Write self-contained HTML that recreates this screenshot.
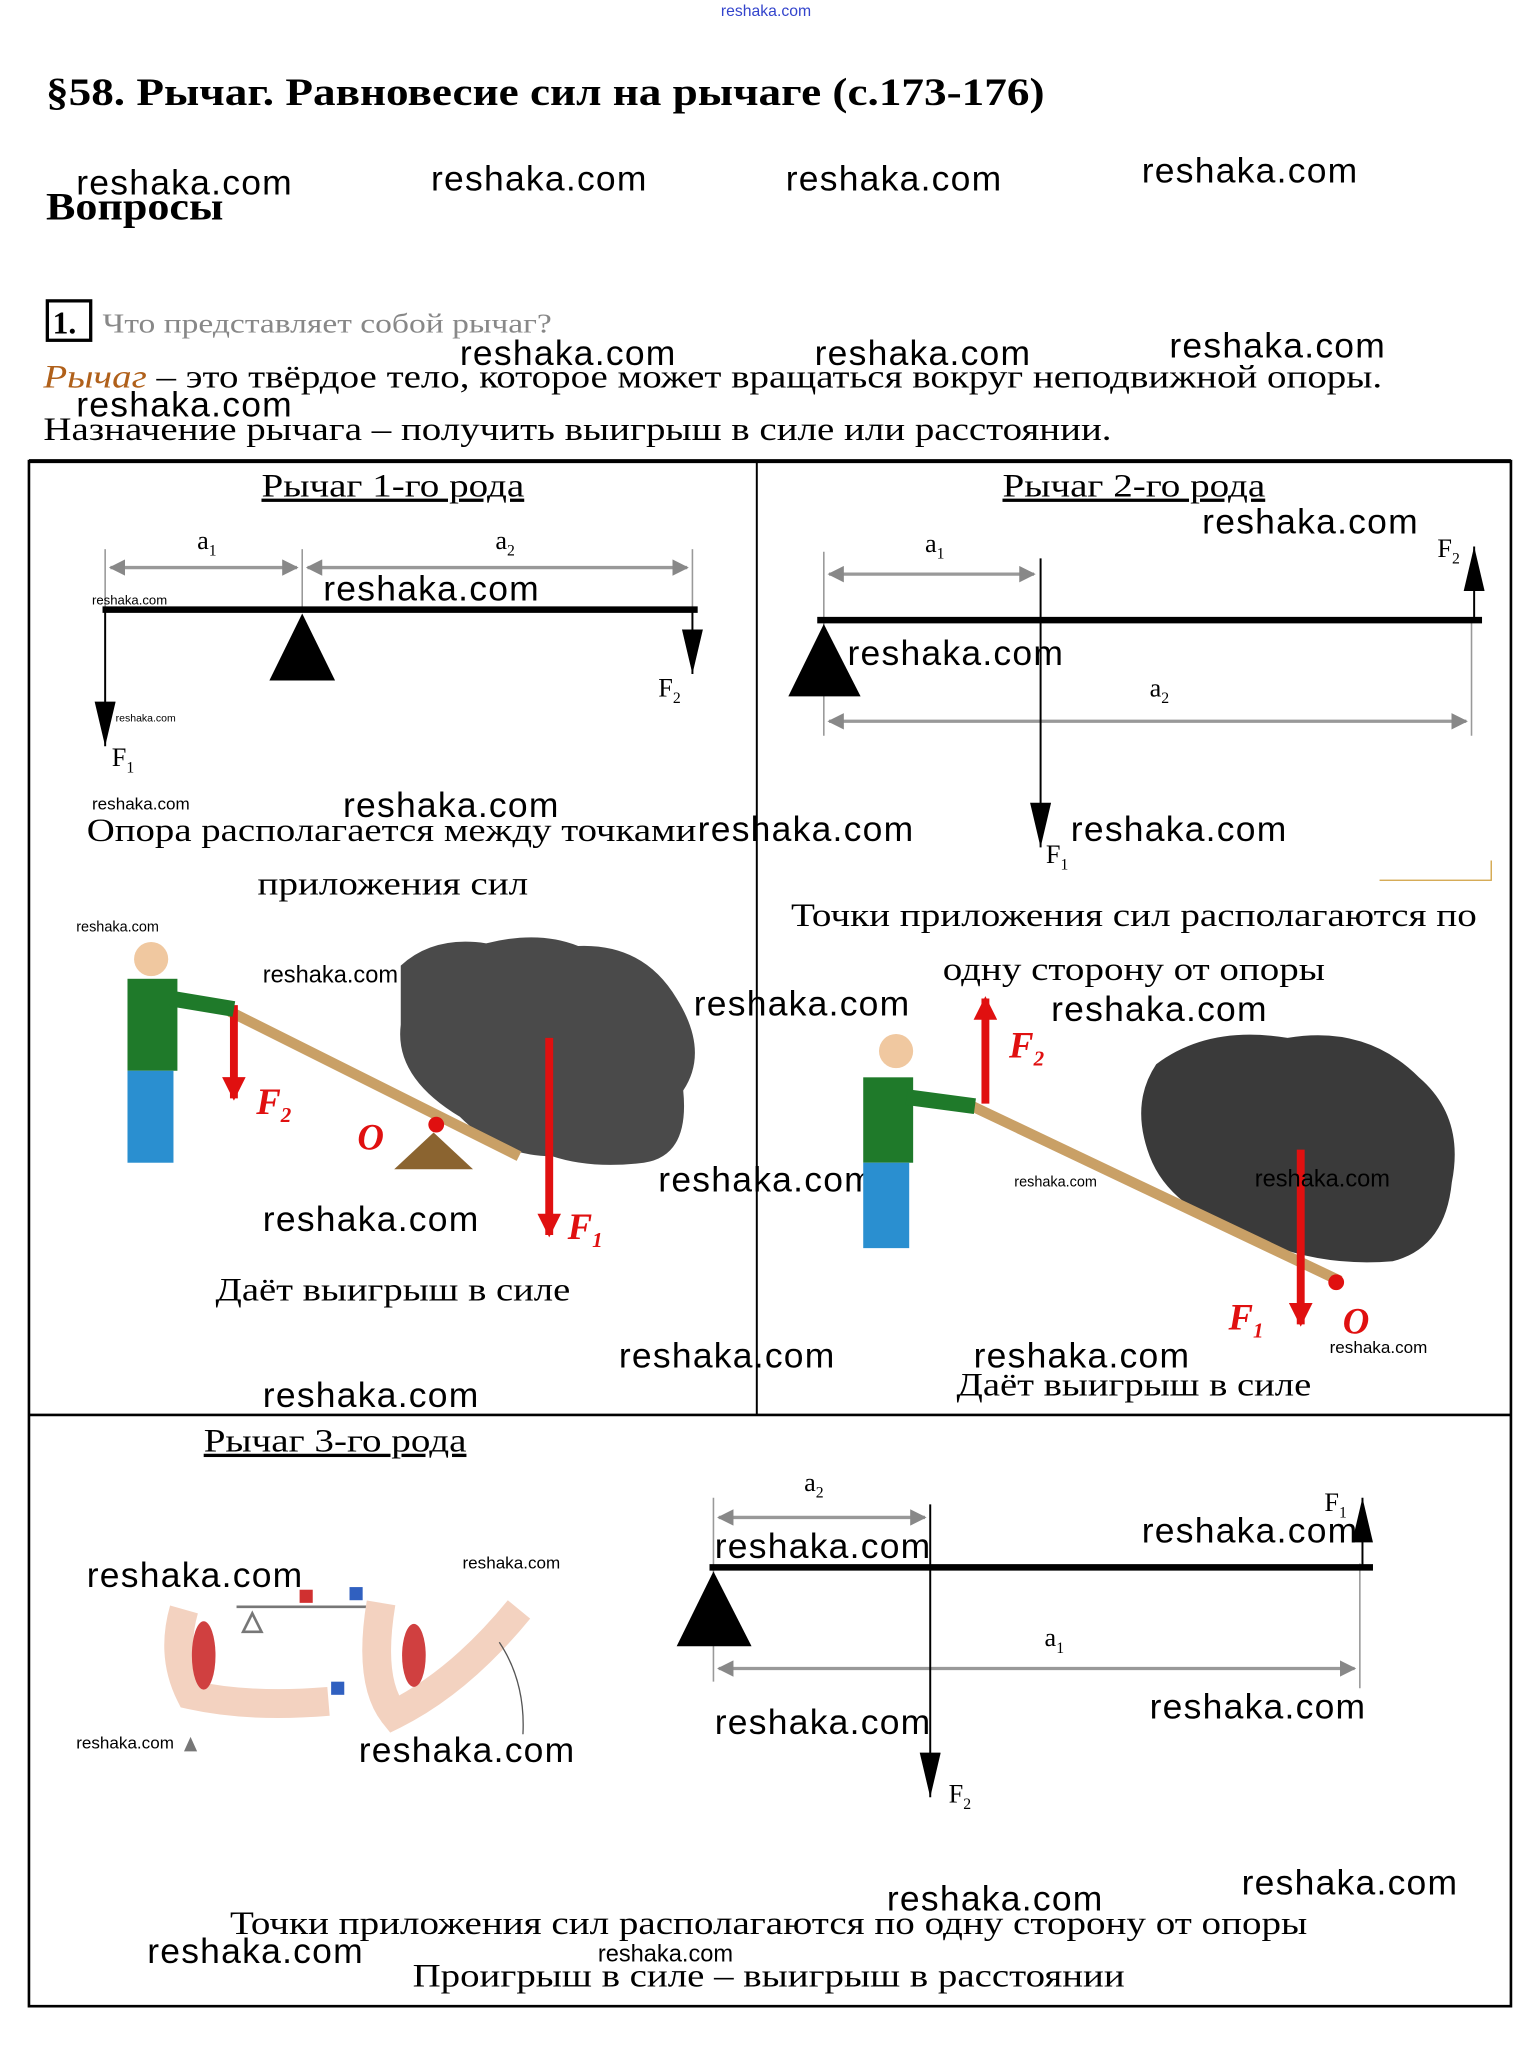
<!DOCTYPE html>
<html><head><meta charset="utf-8"><style>
html,body{margin:0;padding:0;background:#fff;}
svg{display:block;}
.s{font-family:"Liberation Serif","DejaVu Serif",serif;}
.w{font-family:"Liberation Sans","DejaVu Sans",sans-serif;fill:#000;}
</style></head><body>
<svg width="1532" height="2064" viewBox="0 0 1166 1571" xmlns="http://www.w3.org/2000/svg">
<defs>
<marker id="ga" viewBox="0 0 10 10" refX="9" refY="5" markerWidth="5" markerHeight="5" orient="auto-start-reverse"><path d="M0,0L10,5L0,10z" fill="#888"/></marker>
<marker id="ba" viewBox="0 0 10 10" refX="10" refY="5" markerUnits="userSpaceOnUse" markerWidth="34" markerHeight="16" preserveAspectRatio="none" orient="auto"><path d="M0,0L10,5L0,10z" fill="#000"/></marker>
<marker id="ra" viewBox="0 0 10 10" refX="9" refY="5" markerWidth="3" markerHeight="3" orient="auto"><path d="M0,0L10,5L0,10z" fill="#e01010"/></marker>
</defs>
<text x="583" y="12" font-size="12" text-anchor="middle" class="w" style="fill:#3344cc">reshaka.com</text>
<text x="35" y="80" font-size="30" font-weight="bold" class="s" textLength="760" lengthAdjust="spacingAndGlyphs">§58. Рычаг. Равновесие сил на рычаге (с.173-176)</text>
<text x="35" y="167" font-size="30" font-weight="bold" class="s" textLength="135" lengthAdjust="spacingAndGlyphs">Вопросы</text>
<g font-size="27">
<text x="58" y="148" class="w" textLength="164">reshaka.com</text><text x="328" y="145" class="w" textLength="164">reshaka.com</text><text x="598" y="145" class="w" textLength="164">reshaka.com</text><text x="869" y="139" class="w" textLength="164">reshaka.com</text>
</g>
<rect x="36" y="229" width="33" height="30" fill="none" stroke="#000" stroke-width="2.5"/>
<text x="40" y="254" font-size="24" font-weight="bold" class="s">1.</text>
<text x="78" y="253" font-size="21" fill="#888" class="s" textLength="342" lengthAdjust="spacingAndGlyphs">Что представляет собой рычаг?</text>
<text x="33" y="295" font-size="25" class="s" textLength="1019" lengthAdjust="spacingAndGlyphs"><tspan font-style="italic" fill="#b0601a">Рычаг</tspan> – это твёрдое тело, которое может вращаться вокруг неподвижной опоры.</text>
<text x="33" y="335" font-size="25" class="s" textLength="813" lengthAdjust="spacingAndGlyphs">Назначение рычага – получить выигрыш в силе или расстоянии.</text>
<g font-size="27">
<text x="350" y="278" class="w" textLength="164">reshaka.com</text><text x="620" y="278" class="w" textLength="164">reshaka.com</text><text x="890" y="272" class="w" textLength="164">reshaka.com</text><text x="58" y="317" class="w" textLength="164">reshaka.com</text>
</g>
<!-- table -->
<rect x="22" y="351" width="1128" height="1176" fill="none" stroke="#000" stroke-width="2"/>
<line x1="22" y1="351" x2="1150" y2="351" stroke="#000" stroke-width="3"/>
<line x1="576" y1="351" x2="576" y2="1077" stroke="#000" stroke-width="1.5"/>
<line x1="22" y1="1077" x2="1150" y2="1077" stroke="#000" stroke-width="2"/>
<g class="s" font-size="25" text-anchor="middle" text-decoration="underline">
<text x="299" y="378" textLength="200" lengthAdjust="spacingAndGlyphs">Рычаг 1-го рода</text><text x="863" y="378" textLength="200" lengthAdjust="spacingAndGlyphs">Рычаг 2-го рода</text><text x="255" y="1105" textLength="200" lengthAdjust="spacingAndGlyphs">Рычаг 3-го рода</text>
</g>
<!-- diagram 1 -->
<g stroke="#999" stroke-width="1.2"><line x1="80" y1="418" x2="80" y2="465"/><line x1="230" y1="418" x2="230" y2="465"/><line x1="527" y1="418" x2="527" y2="465"/></g>
<g stroke="#999" stroke-width="2.5"><line x1="84" y1="432" x2="226" y2="432" marker-start="url(#ga)" marker-end="url(#ga)"/><line x1="234" y1="432" x2="523" y2="432" marker-start="url(#ga)" marker-end="url(#ga)"/></g>
<line x1="78" y1="464" x2="531" y2="464" stroke="#000" stroke-width="5"/>
<polygon points="230,467 205,518 255,518" fill="#000"/>
<line x1="80" y1="464" x2="80" y2="568" stroke="#000" stroke-width="1.5" marker-end="url(#ba)"/>
<line x1="527" y1="464" x2="527" y2="513" stroke="#000" stroke-width="1.5" marker-end="url(#ba)"/>
<g class="s" font-size="20"><text x="150" y="418">a<tspan font-size="12" dy="5">1</tspan></text><text x="377" y="418">a<tspan font-size="12" dy="5">2</tspan></text><text x="85" y="583">F<tspan font-size="12" dy="5">1</tspan></text><text x="501" y="530">F<tspan font-size="12" dy="5">2</tspan></text></g>
<text x="70" y="460" font-size="10" class="w">reshaka.com</text>
<text x="88" y="549" font-size="8" class="w">reshaka.com</text>
<text x="70" y="616" font-size="13" class="w">reshaka.com</text>
<text x="246" y="457" font-size="27" class="w" textLength="164">reshaka.com</text>
<text x="261" y="622" font-size="27" class="w" textLength="164">reshaka.com</text>
<text x="531" y="640" font-size="27" class="w" textLength="164">reshaka.com</text>
<text x="66" y="640" font-size="25" class="s" textLength="464" lengthAdjust="spacingAndGlyphs">Опора располагается между точками</text>
<text x="299" y="681" font-size="25" class="s" text-anchor="middle" textLength="206" lengthAdjust="spacingAndGlyphs">приложения сил</text>
<!-- image 1 -->
<path d="M305,735 Q330,712 370,718 Q410,708 440,720 Q490,718 515,760 Q540,800 520,830 Q525,880 490,885 Q450,890 420,880 Q380,880 350,850 Q300,820 305,780 Z" fill="#4a4a4a"/>
<line x1="175" y1="770" x2="395" y2="880" stroke="#c9a066" stroke-width="8"/>
<polygon points="300,890 360,890 330,862" fill="#8b6430"/>
<circle cx="332" cy="856" r="6" fill="#e01010"/>
<line x1="418" y1="790" x2="418" y2="940" stroke="#e01010" stroke-width="6" marker-end="url(#ra)"/>
<line x1="178" y1="765" x2="178" y2="836" stroke="#e01010" stroke-width="6" marker-end="url(#ra)"/>
<rect x="97" y="745" width="38" height="70" fill="#1f7a2a"/>
<circle cx="115" cy="730" r="13" fill="#f0c8a0"/>
<rect x="97" y="815" width="35" height="70" fill="#2a8fd0"/>
<line x1="130" y1="760" x2="178" y2="768" stroke="#1f7a2a" stroke-width="12"/>
<g class="s" font-size="28" font-style="italic" font-weight="bold" fill="#e01010"><text x="195" y="848">F<tspan font-size="16" dy="6">2</tspan></text><text x="272" y="875">O</text><text x="432" y="943">F<tspan font-size="16" dy="6">1</tspan></text></g>
<text x="58" y="709" font-size="11" class="w">reshaka.com</text>
<text x="200" y="748" font-size="18" class="w">reshaka.com</text>
<text x="528" y="773" font-size="27" class="w" textLength="164">reshaka.com</text>
<text x="501" y="907" font-size="27" class="w" textLength="164">reshaka.com</text>
<text x="200" y="937" font-size="27" class="w" textLength="164">reshaka.com</text>
<text x="299" y="990" font-size="25" class="s" text-anchor="middle" textLength="270" lengthAdjust="spacingAndGlyphs">Даёт выигрыш в силе</text>
<text x="471" y="1041" font-size="27" class="w" textLength="164">reshaka.com</text>
<text x="200" y="1071" font-size="27" class="w" textLength="164">reshaka.com</text>
<!-- diagram 2 -->
<g stroke="#999" stroke-width="1.2"><line x1="627" y1="420" x2="627" y2="560"/><line x1="1120" y1="470" x2="1120" y2="560"/></g>
<g stroke="#999" stroke-width="2.5"><line x1="631" y1="437" x2="787" y2="437" marker-start="url(#ga)" marker-end="url(#ga)"/><line x1="631" y1="549" x2="1116" y2="549" marker-start="url(#ga)" marker-end="url(#ga)"/></g>
<line x1="622" y1="472" x2="1128" y2="472" stroke="#000" stroke-width="5"/>
<polygon points="627,475 600,530 655,530" fill="#000"/>
<line x1="792" y1="425" x2="792" y2="645" stroke="#000" stroke-width="1.5" marker-end="url(#ba)"/>
<line x1="1122" y1="472" x2="1122" y2="416" stroke="#000" stroke-width="1.5" marker-end="url(#ba)"/>
<g class="s" font-size="20"><text x="704" y="420">a<tspan font-size="12" dy="5">1</tspan></text><text x="875" y="530">a<tspan font-size="12" dy="5">2</tspan></text><text x="796" y="657">F<tspan font-size="12" dy="5">1</tspan></text><text x="1094" y="424">F<tspan font-size="12" dy="5">2</tspan></text></g>
<text x="915" y="406" font-size="27" class="w" textLength="164">reshaka.com</text>
<text x="645" y="506" font-size="27" class="w" textLength="164">reshaka.com</text>
<text x="815" y="640" font-size="27" class="w" textLength="164">reshaka.com</text>
<path d="M1050,670 L1135,670 L1135,655" stroke="#d0a040" fill="none" stroke-width="1"/>
<text x="863" y="705" font-size="25" class="s" text-anchor="middle" textLength="522" lengthAdjust="spacingAndGlyphs">Точки приложения сил располагаются по</text>
<text x="863" y="746" font-size="25" class="s" text-anchor="middle" textLength="291" lengthAdjust="spacingAndGlyphs">одну сторону от опоры</text>
<text x="800" y="777" font-size="27" class="w" textLength="164">reshaka.com</text>
<!-- image 2 -->
<path d="M880,810 Q920,780 980,790 Q1040,780 1080,820 Q1115,850 1105,900 Q1100,950 1060,960 Q1000,965 950,940 Q890,920 875,880 Q860,840 880,810 Z" fill="#3a3a3a"/>
<line x1="740" y1="842" x2="1020" y2="975" stroke="#c9a066" stroke-width="8"/>
<circle cx="1017" cy="976" r="6" fill="#e01010"/>
<line x1="750" y1="840" x2="750" y2="760" stroke="#e01010" stroke-width="6" marker-end="url(#ra)"/>
<line x1="990" y1="875" x2="990" y2="1008" stroke="#e01010" stroke-width="6" marker-end="url(#ra)"/>
<rect x="657" y="820" width="38" height="65" fill="#1f7a2a"/>
<circle cx="682" cy="800" r="13" fill="#f0c8a0"/>
<rect x="657" y="885" width="35" height="65" fill="#2a8fd0"/>
<line x1="690" y1="835" x2="742" y2="842" stroke="#1f7a2a" stroke-width="12"/>
<g class="s" font-size="28" font-style="italic" font-weight="bold" fill="#e01010"><text x="768" y="805">F<tspan font-size="16" dy="6">2</tspan></text><text x="935" y="1012">F<tspan font-size="16" dy="6">1</tspan></text><text x="1022" y="1015">O</text></g>
<text x="772" y="903" font-size="11" class="w">reshaka.com</text>
<text x="955" y="903" font-size="18" class="w">reshaka.com</text>
<text x="1012" y="1030" font-size="13" class="w">reshaka.com</text>
<text x="741" y="1041" font-size="27" class="w" textLength="164">reshaka.com</text>
<text x="863" y="1062" font-size="25" class="s" text-anchor="middle" textLength="270" lengthAdjust="spacingAndGlyphs">Даёт выигрыш в силе</text>
<!-- diagram 3 -->
<g stroke="#999" stroke-width="1.2"><line x1="543" y1="1140" x2="543" y2="1280"/><line x1="1035" y1="1190" x2="1035" y2="1285"/></g>
<g stroke="#999" stroke-width="2.5"><line x1="547" y1="1155" x2="704" y2="1155" marker-start="url(#ga)" marker-end="url(#ga)"/><line x1="547" y1="1270" x2="1031" y2="1270" marker-start="url(#ga)" marker-end="url(#ga)"/></g>
<line x1="540" y1="1193" x2="1045" y2="1193" stroke="#000" stroke-width="5"/>
<polygon points="543,1196 515,1253 572,1253" fill="#000"/>
<line x1="708" y1="1145" x2="708" y2="1368" stroke="#000" stroke-width="1.5" marker-end="url(#ba)"/>
<line x1="1037" y1="1193" x2="1037" y2="1140" stroke="#000" stroke-width="1.5" marker-end="url(#ba)"/>
<g class="s" font-size="20"><text x="612" y="1135">a<tspan font-size="12" dy="5">2</tspan></text><text x="795" y="1253">a<tspan font-size="12" dy="5">1</tspan></text><text x="722" y="1372">F<tspan font-size="12" dy="5">2</tspan></text><text x="1008" y="1150">F<tspan font-size="12" dy="5">1</tspan></text></g>
<text x="544" y="1186" font-size="27" class="w" textLength="164">reshaka.com</text>
<text x="869" y="1174" font-size="27" class="w" textLength="164">reshaka.com</text>
<text x="544" y="1320" font-size="27" class="w" textLength="164">reshaka.com</text>
<text x="875" y="1308" font-size="27" class="w" textLength="164">reshaka.com</text>
<!-- arm image -->
<line x1="180" y1="1223" x2="282" y2="1223" stroke="#777" stroke-width="2"/>
<polygon points="192,1228 185,1242 199,1242" fill="none" stroke="#777" stroke-width="2"/>
<path d="M140,1225 Q130,1260 145,1290 Q190,1300 250,1295" stroke="#f3d2c0" stroke-width="22" fill="none"/>
<ellipse cx="155" cy="1260" rx="9" ry="26" fill="#d04040"/>
<path d="M290,1220 Q280,1280 300,1305 Q350,1280 395,1225" stroke="#f3d2c0" stroke-width="22" fill="none"/>
<ellipse cx="315" cy="1260" rx="9" ry="24" fill="#d04040"/>
<rect x="228" y="1210" width="10" height="10" fill="#d03030"/>
<rect x="266" y="1208" width="10" height="10" fill="#3060c0"/>
<rect x="252" y="1280" width="10" height="10" fill="#3060c0"/>
<path d="M380,1250 Q400,1280 398,1320" stroke="#555" stroke-width="1" fill="none"/>
<text x="66" y="1208" font-size="27" class="w" textLength="164">reshaka.com</text>
<text x="352" y="1194" font-size="13" class="w">reshaka.com</text>
<text x="58" y="1331" font-size="13" class="w">reshaka.com</text>
<polygon points="145,1322 140,1333 150,1333" fill="#777"/>
<text x="273" y="1341" font-size="27" class="w" textLength="164">reshaka.com</text>
<text x="675" y="1454" font-size="27" class="w" textLength="164">reshaka.com</text>
<text x="945" y="1442" font-size="27" class="w" textLength="164">reshaka.com</text>
<text x="585" y="1472" font-size="25" class="s" text-anchor="middle" textLength="820" lengthAdjust="spacingAndGlyphs">Точки приложения сил располагаются по одну сторону от опоры</text>
<text x="112" y="1494" font-size="27" class="w" textLength="164">reshaka.com</text>
<text x="455" y="1493" font-size="18" class="w">reshaka.com</text>
<text x="585" y="1512" font-size="25" class="s" text-anchor="middle" textLength="542" lengthAdjust="spacingAndGlyphs">Проигрыш в силе – выигрыш в расстоянии</text>
</svg>
</body></html>
